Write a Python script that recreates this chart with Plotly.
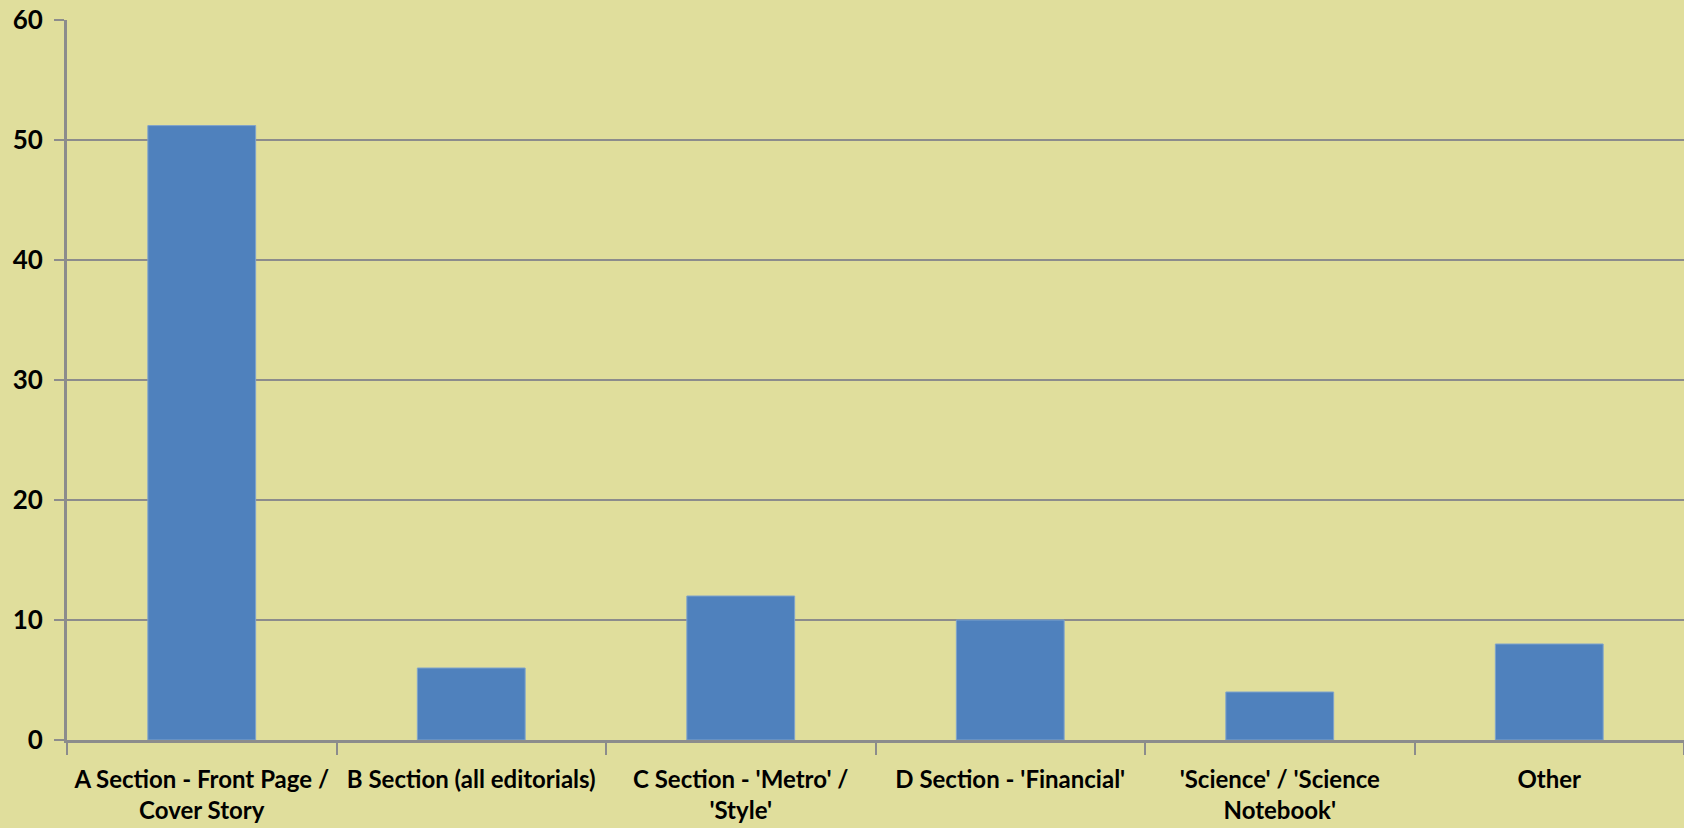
import plotly.graph_objects as go

# Share of stories by newspaper section
categories = [
    "A Section - Front Page /<br>Cover Story",
    "B Section (all editorials)",
    "C Section - 'Metro' /<br>'Style'",
    "D Section - 'Financial'",
    "'Science' / 'Science<br>Notebook'",
    "Other",
]
values = [51.2, 6, 12, 10, 4, 8]
y_ticks = [0, 10, 20, 30, 40, 50, 60]

BG = "#E0DE9C"
BAR = "#4F81BD"
GRID = "#8C8C8C"
X_FONT = dict(family="Lato", size=24, color="black", weight="bold")
Y_FONT = dict(family="Lato", size=26, color="black", weight="bold")

fig = go.Figure(
    go.Bar(
        x=categories,
        y=values,
        marker=dict(color=BAR, line=dict(color="#7FA3CC", width=1)),
        width=0.4,
    )
)

fig.update_layout(
    width=1684,
    height=828,
    paper_bgcolor=BG,
    plot_bgcolor=BG,
    margin=dict(l=67, r=0, t=20, b=88),
    showlegend=False,
    font=X_FONT,
)

fig.update_xaxes(
    type="category",
    automargin=False,
    showline=True,
    linecolor=GRID,
    linewidth=3,
    ticks="outside",
    tickson="boundaries",
    ticklen=12,
    tickwidth=2,
    tickcolor=GRID,
    showgrid=False,
    tickfont=X_FONT,
    ticklabelstandoff=16,
)

fig.update_yaxes(
    range=[0, 60],
    tickvals=y_ticks,
    automargin=False,
    showline=True,
    linecolor=GRID,
    linewidth=3,
    ticks="outside",
    ticklen=10,
    tickwidth=2,
    tickcolor=GRID,
    showgrid=True,
    gridcolor=GRID,
    gridwidth=2,
    zeroline=False,
    tickfont=Y_FONT,
    ticklabelstandoff=6,
)

fig.write_html("out.html")
